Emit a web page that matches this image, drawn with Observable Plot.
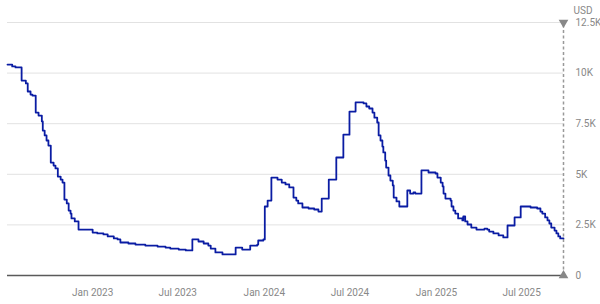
<!DOCTYPE html>
<html>
<head>
<meta charset="utf-8">
<script src="https://cdn.jsdelivr.net/npm/d3@7"></script>
<script src="https://cdn.jsdelivr.net/npm/@observablehq/plot@0.6"></script>
<style>
  html, body { margin: 0; padding: 0; background: #fff; }
  #chart svg { display: block; }
</style>
</head>
<body>
<div id="chart"></div>
<script>
const dates = [
  "2022-07-04","2022-07-14","2022-07-21","2022-08-03","2022-08-12","2022-08-16","2022-08-22","2022-08-26",
  "2022-09-02","2022-09-08","2022-09-15","2022-09-17","2022-09-21","2022-09-25","2022-09-29","2022-10-04",
  "2022-10-10","2022-10-14","2022-10-19","2022-10-25","2022-10-29","2022-11-02","2022-11-07","2022-11-11",
  "2022-11-15","2022-11-17","2022-11-24","2022-12-02","2023-01-01","2023-01-11","2023-01-24","2023-02-02",
  "2023-02-15","2023-02-23","2023-03-01","2023-03-18","2023-04-02","2023-04-23","2023-05-19","2023-06-05",
  "2023-06-15","2023-07-03","2023-07-18","2023-08-01","2023-08-14","2023-08-25","2023-09-04","2023-09-09",
  "2023-09-19","2023-10-04","2023-11-01","2023-11-15","2023-12-02","2023-12-17","2023-12-19","2023-12-30",
  "2024-01-02","2024-01-08","2024-01-16","2024-01-29","2024-02-07","2024-02-15","2024-02-23","2024-03-03",
  "2024-03-09","2024-03-13","2024-03-22","2024-04-04","2024-04-16","2024-04-25","2024-05-02","2024-05-17",
  "2024-06-02","2024-06-17","2024-06-30","2024-07-13","2024-07-30","2024-08-05","2024-08-11","2024-08-18",
  "2024-08-22","2024-08-28","2024-08-31","2024-09-04","2024-09-08","2024-09-10","2024-09-14","2024-09-16",
  "2024-09-21","2024-09-25","2024-09-30","2024-10-02","2024-10-08","2024-10-14","2024-10-31","2024-11-06",
  "2024-11-13","2024-11-17","2024-11-30","2024-12-15","2024-12-30","2025-01-03","2025-01-10","2025-01-14",
  "2025-01-16","2025-01-20","2025-01-31","2025-02-02","2025-02-06","2025-02-10","2025-02-16","2025-02-25",
  "2025-02-27","2025-03-03","2025-03-08","2025-03-16","2025-03-27","2025-04-13","2025-04-19","2025-04-23",
  "2025-05-02","2025-05-13","2025-05-23","2025-06-01","2025-06-16","2025-06-29","2025-07-20","2025-08-03",
  "2025-08-10","2025-08-14","2025-08-20","2025-08-25","2025-08-29","2025-09-02","2025-09-09","2025-09-13",
  "2025-09-17","2025-09-21","2025-09-28"
];
const values = [
  10420,10330,10280,9630,9490,9090,8940,8890,
  8050,7900,7610,7160,6920,6670,6420,5580,
  5430,5290,4890,4740,4590,3750,3560,3210,
  3060,2820,2670,2270,2120,2080,2030,1930,
  1830,1780,1630,1580,1530,1480,1430,1380,
  1330,1280,1240,1780,1680,1580,1480,1330,
  1140,1040,1380,1280,1480,1530,1730,1780,
  3410,3700,4840,4740,4590,4500,4350,3850,
  3700,3560,3360,3310,3260,3160,3800,4740,
  5830,6960,8100,8550,8500,8350,8250,8050,
  7800,7560,6920,6670,6370,6080,5680,5330,
  4940,4690,4450,3850,3660,3410,4200,4050,
  4100,4050,5190,5090,5040,4840,4590,4400,
  4050,3800,3700,3410,3210,3060,2820,2720,
  2920,2670,2520,2370,2270,2320,2270,2170,
  2080,1980,1880,2470,2870,3410,3360,3310,
  3160,3060,2870,2720,2570,2370,2220,2080,
  1930,1830,1830
];
const yTicks = [0, 2500, 5000, 7500, 10000, 12500];
const xTicks = ["2023-01-01","2023-07-01","2024-01-01","2024-07-01","2025-01-01","2025-07-01"];
const currency = "USD";

const data = dates.map((d, i) => ({date: new Date(d), value: values[i]}));
const endDate = data[data.length - 1].date;
const startDate = data[0].date;
const yMax = yTicks[yTicks.length - 1];

const fmtY = v => v === 0 ? "0" : (v / 1000) + "K";

const chart = Plot.plot({
  width: 600,
  height: 304,
  marginTop: 22,
  marginBottom: 29,
  marginLeft: 7,
  marginRight: 37,
  style: {fontFamily: "Roboto, 'Liberation Sans', sans-serif", fontSize: "10px", color: "#888", background: "#fff"},
  x: {type: "utc", domain: [startDate, endDate]},
  y: {domain: [0, yMax]},
  marks: [
    Plot.gridY(yTicks, {stroke: "#e2e2e2", strokeOpacity: 1, strokeWidth: 1}),
    Plot.axisX(xTicks.map(d => new Date(d)), {tickSize: 0, tickPadding: 13, tickFormat: d3.utcFormat("%b %Y"), fill: "#888", label: null}),
    Plot.axisY(yTicks, {anchor: "right", tickSize: 0, tickPadding: 12, tickFormat: fmtY, fill: "#888", label: null, textAnchor: "start"}),
    Plot.ruleY([0], {stroke: "#5a5a5a", strokeWidth: 1.5}),
    Plot.ruleX([endDate], {y1: 0, y2: yMax, stroke: "#999", strokeWidth: 1.5, strokeDasharray: "3,2.5"}),
    Plot.dot([{date: endDate, value: yMax}], {x: "date", y: "value", symbol: "triangle", r: 3.6, fill: "#888", stroke: null, rotate: 180}),
    Plot.dot([{date: endDate, value: 0}], {x: "date", y: "value", symbol: "triangle", r: 3.6, fill: "#888", stroke: null}),
    Plot.line(data, {x: "date", y: "value", curve: "step-after", stroke: "#0a1ca3", strokeWidth: 1.8}),
    Plot.text([currency], {frameAnchor: "top-right", dx: 10, dy: -16, textAnchor: "start", fill: "#888", fontSize: 10})
  ]
});
document.getElementById("chart").append(chart);
</script>
</body>
</html>
